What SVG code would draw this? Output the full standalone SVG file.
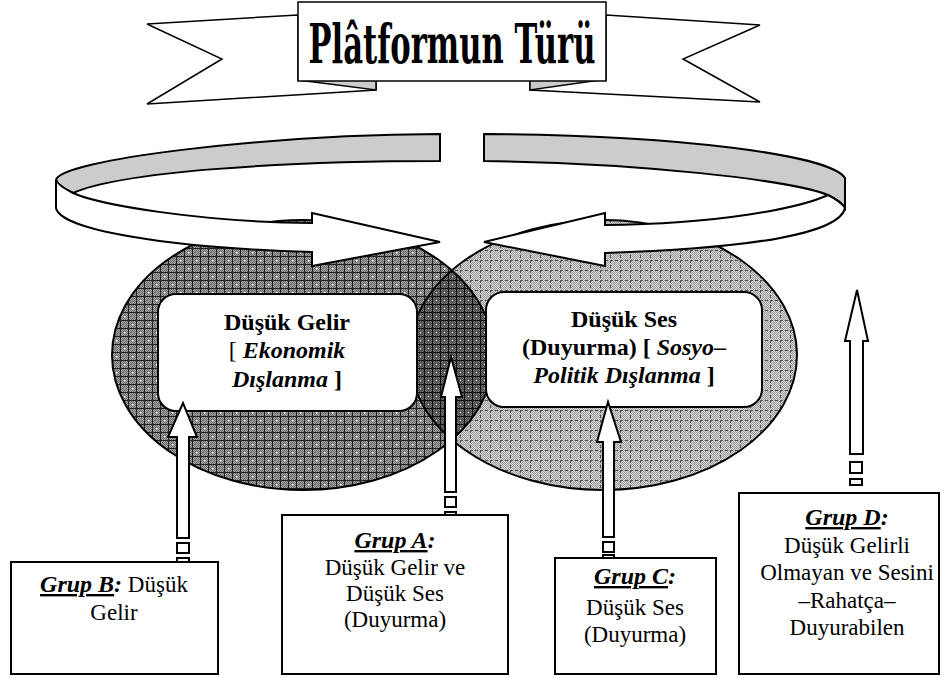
<svg xmlns="http://www.w3.org/2000/svg" width="951" height="678" viewBox="0 0 951 678" font-family="Liberation Serif, DejaVu Serif, serif">
<style>
.ln{stroke:#000;stroke-width:2;stroke-linejoin:miter}
.thin{stroke:#000;stroke-width:1.5;stroke-linejoin:miter}
.t{font-size:23px;text-anchor:middle;fill:#000}
.b{font-weight:bold;font-size:24px}
.bi{font-weight:bold;font-style:italic;font-size:24px}
.u{text-decoration:underline}
.r{font-weight:normal;font-style:normal}
</style>
<defs>
<pattern id="ckD" width="2" height="2" patternUnits="userSpaceOnUse"><rect width="2" height="2" fill="#a8a8a8"/><rect width="1" height="1" fill="#666"/><rect x="1" y="1" width="1" height="1" fill="#666"/></pattern>
<pattern id="ckL" width="2" height="2" patternUnits="userSpaceOnUse"><rect width="2" height="2" fill="#d8d8d8"/><rect width="1" height="1" fill="#9a9a9a"/><rect x="1" y="1" width="1" height="1" fill="#9a9a9a"/></pattern>
<pattern id="ckO" width="2" height="2" patternUnits="userSpaceOnUse"><rect width="2" height="2" fill="#777"/><rect width="1" height="1" fill="#404040"/><rect x="1" y="1" width="1" height="1" fill="#404040"/></pattern>
<pattern id="pL" width="16" height="16" patternUnits="userSpaceOnUse"><rect width="16" height="16" fill="url(#ckD)"/><path d="M0,0.5H16M0,8.5H16M0.5,0V16M8.5,0V16" stroke="#222" stroke-width="1"/><rect x="4" y="4" width="1.5" height="1.5" fill="#fff"/><rect x="12" y="12" width="1.5" height="1.5" fill="#fff"/></pattern>
<pattern id="pR" width="10" height="10" patternUnits="userSpaceOnUse"><rect width="10" height="10" fill="url(#ckL)"/><path d="M0,0.5H10M0.5,0V10" stroke="#555" stroke-width="1" stroke-dasharray="3,2"/></pattern>
<pattern id="pO" width="8" height="8" patternUnits="userSpaceOnUse"><rect width="8" height="8" fill="url(#ckO)"/><path d="M0,0.5H8M0.5,0V8" stroke="#111" stroke-width="1"/><rect x="4" y="4" width="1" height="1" fill="#ddd"/></pattern>
<clipPath id="clipR"><ellipse cx="603" cy="355" rx="194" ry="135"/></clipPath>
</defs>

<g id="banner">
<polygon class="thin" fill="#fff" points="298,15 147,24 222,59 147,104 376,90 376,80 298,80"/>
<polygon class="thin" fill="#ccc" points="298,80 376,80 376,90"/>
<polygon class="thin" fill="#fff" points="606,15 760,25 683,59 760,102 530,90 530,80 606,80"/>
<polygon class="thin" fill="#ccc" points="530,80 600,80 530,90"/>
<rect class="thin" x="298" y="2" width="308" height="79" fill="#fff"/>
<text x="452" y="63" font-family="DejaVu Serif, Liberation Serif, serif" font-weight="bold" font-size="55" textLength="287" lengthAdjust="spacingAndGlyphs" text-anchor="middle">Plâtformun Türü</text>
</g>

<g id="ellipse-right">
<ellipse cx="603" cy="355" rx="194" ry="135" fill="url(#pR)"/>
</g>
<g id="ellipse-left">
<ellipse cx="303" cy="355" rx="191" ry="135" fill="url(#pL)"/>
</g>
<g id="overlap">
<ellipse cx="303" cy="355" rx="191" ry="135" fill="url(#pO)" clip-path="url(#clipR)"/>
<ellipse cx="603" cy="355" rx="194" ry="135" fill="none" class="ln"/>
<ellipse cx="303" cy="355" rx="191" ry="135" fill="none" class="ln"/>
</g>

<g id="node-gelir" font-family="Liberation Serif, serif">
<rect class="ln" x="158" y="294" width="259" height="117" rx="18" fill="#fff"/>
<text class="t b" x="287" y="330">Düşük Gelir</text>
<text class="t b" x="287" y="358"><tspan class="r">[ </tspan><tspan class="bi">Ekonomik</tspan></text>
<text class="t b" x="287" y="387"><tspan class="bi">Dışlanma</tspan><tspan> ]</tspan></text>
</g>

<g id="node-ses" font-family="Liberation Serif, serif">
<rect class="ln" x="486" y="292" width="276" height="115" rx="18" fill="#fff"/>
<text class="t b" x="624" y="327">Düşük Ses</text>
<text class="t b" x="624" y="355">(Duyurma) [ <tspan class="bi">Sosyo</tspan>–</text>
<text class="t b" x="624" y="383"><tspan class="bi">Politik Dışlanma</tspan> ]</text>
</g>

<g id="connectors">
<g id="cycle-left">
<path class="ln" fill="#ccc" d="M440,134 L440,161 C280,161 120,172 73,193 C65,189 58,185 56,180 C60,160 260,135 440,134 Z"/>
<path class="ln" fill="#fff" d="M56,180 L56,208 C60,230 170,248 312,252 L312,266 L440,242 L312,213 L312,223 C200,222 100,205 73,193 C65,189 58,185 56,180 Z"/>
</g>
<g id="cycle-right">
<path class="ln" fill="#ccc" d="M484,134 L484,161 C640,163 790,180 828,195 C836,199 842,203 845,208 L845,178 C830,155 680,135 484,134 Z"/>
<path class="ln" fill="#fff" d="M845,208 C840,232 760,248 605,253 L605,266 L484,242 L605,213 L605,225 C720,224 800,208 828,195 C836,199 842,203 845,208 Z"/>
</g>
<g id="arrow-b">
<path class="ln" fill="#fff" d="M177,538 L177,437 L168,437 L183,403 L197,437 L189,437 L189,538 Z"/>
<rect class="ln" x="177" y="543" width="12" height="10" fill="#fff"/>
<rect class="ln" x="177" y="558" width="12" height="6" fill="#fff"/>
</g>
<g id="arrow-a">
<path class="ln" fill="#fff" d="M445,492 L445,397 L441,397 L451,357 L462,397 L456,397 L456,492 Z"/>
<rect class="ln" x="445" y="497" width="11" height="10" fill="#fff"/>
<rect class="ln" x="445" y="512" width="11" height="5" fill="#fff"/>
</g>
<g id="arrow-c">
<path class="ln" fill="#fff" d="M603,537 L603,442 L597,442 L608,402 L621,442 L614,442 L614,537 Z"/>
<rect class="ln" x="603" y="542" width="11" height="10" fill="#fff"/>
<rect class="ln" x="603" y="555" width="11" height="3" fill="#fff"/>
</g>
<g id="arrow-d">
<path class="ln" fill="#fff" d="M850,454 L850,341 L845,341 L857,290 L868,341 L863,341 L863,454 Z"/>
<rect class="ln" x="850" y="462" width="12" height="11" fill="#fff"/>
<rect class="ln" x="850" y="479" width="12" height="6" fill="#fff"/>
</g>
</g>

<g id="node-grup-b" font-family="Liberation Serif, serif">
<rect class="ln" x="11" y="562" width="207" height="112" fill="#fff"/>
<text class="t" x="114" y="592"><tspan class="bi u">Grup B</tspan><tspan class="bi">:</tspan> Düşük</text>
<text class="t" x="114" y="620">Gelir</text>
</g>
<g id="node-grup-a" font-family="Liberation Serif, serif">
<rect class="ln" x="282" y="515" width="226" height="159" fill="#fff"/>
<text class="t" x="395" y="548"><tspan class="bi u">Grup A</tspan><tspan class="bi">:</tspan></text>
<text class="t" x="395" y="575">Düşük Gelir ve</text>
<text class="t" x="395" y="601">Düşük Ses</text>
<text class="t" x="395" y="627">(Duyurma)</text>
</g>
<g id="node-grup-c" font-family="Liberation Serif, serif">
<rect class="ln" x="555" y="558" width="161" height="116" fill="#fff"/>
<text class="t" x="635" y="584"><tspan class="bi u">Grup C</tspan><tspan class="bi">:</tspan></text>
<text class="t" x="635" y="615">Düşük Ses</text>
<text class="t" x="635" y="642">(Duyurma)</text>
</g>
<g id="node-grup-d" font-family="Liberation Serif, serif">
<rect class="ln" x="739" y="493" width="200" height="181" fill="#fff"/>
<text class="t" x="847" y="525"><tspan class="bi u">Grup D</tspan><tspan class="bi">:</tspan></text>
<text class="t" x="847" y="553">Düşük Gelirli</text>
<text class="t" x="847" y="580">Olmayan ve Sesini</text>
<text class="t" x="847" y="608">–Rahatça–</text>
<text class="t" x="847" y="635">Duyurabilen</text>
</g>
</svg>
